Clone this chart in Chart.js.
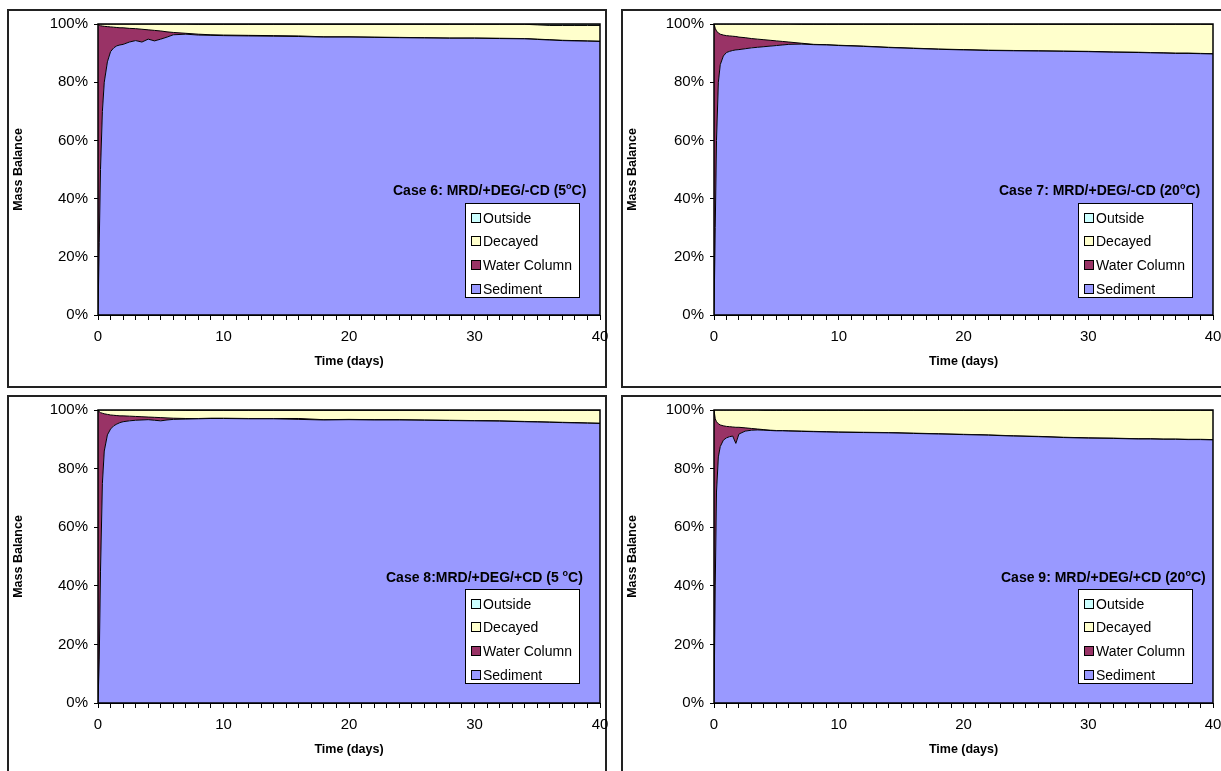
<!DOCTYPE html>
<html>
<head>
<meta charset="utf-8">
<script src="https://cdn.jsdelivr.net/npm/chart.js@4.4.0/dist/chart.umd.min.js"></script>
<style>
  body { margin: 0; background: #fff; width: 1221px; height: 771px; overflow: hidden; position: relative; font-family: "Liberation Sans", Arial, sans-serif; }
  .panel { position: absolute; box-sizing: border-box; border: 2px solid #222; width: 600px; height: 379px; }
  canvas { position: absolute; }
  .case-title { position: absolute; font-weight: bold; font-size: 14px; line-height: 18px; white-space: nowrap; color: #000; }
  .case-title sup { font-size: 9px; vertical-align: 6px; line-height: 0; }
  .legend { position: absolute; box-sizing: border-box; border: 1px solid #000; background: #fff; width: 115px; height: 95px; font-size: 14px; }
  .legend .item { position: absolute; left: 0; height: 18px; line-height: 18px; white-space: nowrap; }
  .legend .sw { position: absolute; left: 5px; top: 4px; width: 8px; height: 8px; border: 1px solid #000; }
  .legend .lab { position: absolute; left: 17px; top: 0; }
</style>
</head>
<body>
<script>
// time axis (days) shared by every case
const days = [0, 0.1, 0.2, 0.35, 0.5, 0.75, 1, 1.25, 1.5, 1.75, 2, 2.5, 3, 3.5, 4, 4.5, 5, 5.5, 6, 7, 8, 9, 10, 12, 14, 16, 18, 20, 22, 24, 26, 28, 30, 32, 34, 35, 36, 37, 38, 39, 40];

const seriesNames = ['Sediment', 'Water Column', 'Decayed', 'Outside'];
const seriesColors = ['#9999FF', '#993366', '#FFFFCC', '#CCFFFF'];
const yTicks = [0, 20, 40, 60, 80, 100];
const xLabels = [0, 10, 20, 30, 40];

// Case 6 (%)
const case6Sediment = [0, 25, 50, 70, 80, 87, 90.5, 91.8, 92.5, 92.8, 93, 93.8, 94.3, 93.8, 94.8, 94.2, 94.8, 95.5, 96.3, 96.5, 96.2, 96.1, 96, 95.9, 95.8, 95.7, 95.5, 95.5, 95.4, 95.3, 95.2, 95.1, 95.1, 95, 94.9, 94.7, 94.5, 94.3, 94.2, 94.1, 94];
const case6Water = [100, 74.6, 49.4, 29.3, 19.2, 12.1, 8.5, 7.1, 6.3, 5.9, 5.7, 4.7, 4.1, 4.4, 3.2, 3.6, 2.8, 1.8, 0.8, 0.3, 0.3, 0.2, 0.2, 0.2, 0.2, 0.2, 0.1, 0.1, 0.1, 0.1, 0.1, 0.1, 0.1, 0.1, 0.1, 0.1, 0.1, 0.1, 0.1, 0.1, 0.1];
const case6Decayed = [0, 0.4, 0.6, 0.7, 0.8, 0.9, 1.0, 1.1, 1.2, 1.3, 1.3, 1.5, 1.6, 1.8, 2.0, 2.2, 2.4, 2.7, 2.9, 3.2, 3.4, 3.6, 3.7, 3.8, 3.9, 4.0, 4.3, 4.3, 4.4, 4.5, 4.6, 4.7, 4.7, 4.8, 4.9, 4.9, 4.9, 5.1, 5.2, 5.3, 5.4];
const case6Outside = [0, 0, 0, 0, 0, 0, 0, 0, 0, 0, 0, 0, 0, 0, 0, 0, 0, 0, 0, 0, 0.1, 0.1, 0.1, 0.1, 0.1, 0.1, 0.1, 0.1, 0.1, 0.1, 0.1, 0.1, 0.1, 0.1, 0.1, 0.3, 0.5, 0.5, 0.5, 0.5, 0.5];

// Case 7
const case7Sediment = [0, 30, 60, 80, 86, 89, 90.2, 90.6, 90.9, 91.1, 91.2, 91.5, 91.8, 92, 92.2, 92.4, 92.6, 92.8, 93, 93.1, 92.9, 92.8, 92.6, 92.3, 91.9, 91.6, 91.3, 91.1, 90.9, 90.8, 90.7, 90.6, 90.5, 90.3, 90.2, 90.1, 90.0, 89.9, 89.9, 89.8, 89.7];
const case7Water = [100, 68.5, 37.6, 16.9, 10.5, 7.2, 5.8, 5.3, 4.9, 4.6, 4.3, 3.8, 3.2, 2.8, 2.4, 2.0, 1.6, 1.2, 0.8, 0.3, 0.1, 0.1, 0.1, 0.1, 0.1, 0.1, 0.1, 0.1, 0.1, 0.1, 0.1, 0.1, 0.1, 0.1, 0.1, 0.1, 0.1, 0.1, 0.1, 0.1, 0.1];
const case7Decayed = [0, 1.5, 2.4, 3.1, 3.5, 3.8, 4.0, 4.1, 4.2, 4.3, 4.5, 4.7, 5.0, 5.2, 5.4, 5.6, 5.8, 6.0, 6.2, 6.5, 6.9, 7.0, 7.2, 7.5, 7.9, 8.2, 8.5, 8.7, 8.9, 9.0, 9.1, 9.2, 9.3, 9.5, 9.6, 9.7, 9.8, 9.9, 9.9, 10.0, 10.1];
const case7Outside = [0, 0, 0, 0, 0, 0, 0, 0, 0, 0, 0, 0, 0, 0, 0, 0, 0, 0, 0, 0.1, 0.1, 0.1, 0.1, 0.1, 0.1, 0.1, 0.1, 0.1, 0.1, 0.1, 0.1, 0.1, 0.1, 0.1, 0.1, 0.1, 0.1, 0.1, 0.1, 0.1, 0.1];

// Case 8
const case8Sediment = [0, 15, 45, 75, 86, 91.5, 93.5, 94.6, 95.2, 95.7, 96, 96.3, 96.5, 96.6, 96.7, 96.5, 96.3, 96.6, 96.8, 96.9, 97, 97.1, 97.1, 97, 97, 96.8, 96.6, 96.7, 96.6, 96.6, 96.5, 96.4, 96.3, 96.2, 96.0, 95.9, 95.8, 95.7, 95.6, 95.5, 95.4];
const case8Water = [100, 84.4, 54.1, 23.9, 12.7, 7.0, 4.8, 3.6, 2.9, 2.3, 2.0, 1.6, 1.3, 1.1, 0.9, 1.0, 1.1, 0.7, 0.4, 0.2, 0.1, 0.1, 0.1, 0.1, 0.1, 0.3, 0.1, 0.1, 0.1, 0.1, 0.1, 0.1, 0.1, 0.1, 0.1, 0.1, 0.1, 0.1, 0.1, 0.1, 0.1];
const case8Decayed = [0, 0.6, 0.9, 1.1, 1.3, 1.5, 1.7, 1.8, 1.9, 2.0, 2.0, 2.1, 2.2, 2.3, 2.4, 2.5, 2.6, 2.7, 2.8, 2.8, 2.8, 2.7, 2.7, 2.8, 2.8, 2.8, 3.2, 3.1, 3.2, 3.2, 3.3, 3.4, 3.5, 3.6, 3.8, 3.9, 4.0, 4.1, 4.2, 4.3, 4.4];
const case8Outside = [0, 0, 0, 0, 0, 0, 0, 0, 0, 0, 0, 0, 0, 0, 0, 0, 0, 0, 0, 0.1, 0.1, 0.1, 0.1, 0.1, 0.1, 0.1, 0.1, 0.1, 0.1, 0.1, 0.1, 0.1, 0.1, 0.1, 0.1, 0.1, 0.1, 0.1, 0.1, 0.1, 0.1];

// Case 9
const case9Sediment = [0, 40, 72, 84, 87.5, 89.7, 90.5, 90.9, 91.1, 88.6, 91.8, 92.8, 93.1, 93.2, 93.1, 93.0, 92.9, 92.9, 92.8, 92.7, 92.6, 92.5, 92.4, 92.3, 92.2, 92.0, 91.8, 91.6, 91.4, 91.1, 90.9, 90.6, 90.4, 90.3, 90.1, 90.1, 90.0, 90.0, 89.9, 89.9, 89.8];
const case9Water = [100, 57, 24, 11.3, 7.4, 4.9, 3.9, 3.4, 3.1, 5.5, 2.3, 1.1, 0.6, 0.3, 0.2, 0.1, 0.1, 0.1, 0.1, 0.1, 0.1, 0.1, 0.1, 0.1, 0.1, 0.1, 0.1, 0.1, 0.1, 0.1, 0.1, 0.1, 0.1, 0.1, 0.1, 0.1, 0.1, 0.1, 0.1, 0.1, 0.1];
const case9Decayed = [0, 3.0, 4.0, 4.7, 5.1, 5.4, 5.6, 5.7, 5.8, 5.9, 5.9, 6.1, 6.3, 6.5, 6.6, 6.8, 6.9, 6.9, 7.0, 7.1, 7.2, 7.3, 7.4, 7.5, 7.6, 7.8, 8.0, 8.2, 8.4, 8.7, 8.9, 9.2, 9.4, 9.5, 9.7, 9.7, 9.8, 9.8, 9.9, 9.9, 10.0];
const case9Outside = [0, 0, 0, 0, 0, 0, 0, 0, 0, 0, 0, 0, 0, 0, 0.1, 0.1, 0.1, 0.1, 0.1, 0.1, 0.1, 0.1, 0.1, 0.1, 0.1, 0.1, 0.1, 0.1, 0.1, 0.1, 0.1, 0.1, 0.1, 0.1, 0.1, 0.1, 0.1, 0.1, 0.1, 0.1, 0.1];

// page layout of the four panels
const panels = [
    { title: 'Case 6: MRD/+DEG/-CD (5<sup>o</sup>C)', left: 7, top: 9, width: 600, plot: { l: 98, t: 24, r: 600, b: 315 }, titleX: 393, titleY: 190,
      series: [case6Sediment, case6Water, case6Decayed, case6Outside] },
    { title: 'Case 7: MRD/+DEG/-CD (20<sup>o</sup>C)', left: 621, top: 9, width: 610, plot: { l: 714, t: 24, r: 1213, b: 315 }, titleX: 999, titleY: 190,
      series: [case7Sediment, case7Water, case7Decayed, case7Outside] },
    { title: 'Case 8:MRD/+DEG/+CD (5 <sup>o</sup>C)', left: 7, top: 395, width: 600, plot: { l: 98, t: 410, r: 600, b: 703 }, titleX: 386, titleY: 577,
      series: [case8Sediment, case8Water, case8Decayed, case8Outside] },
    { title: 'Case 9: MRD/+DEG/+CD (20<sup>o</sup>C)', left: 621, top: 395, width: 610, plot: { l: 714, t: 410, r: 1213, b: 703 }, titleX: 1001, titleY: 577,
      series: [case9Sediment, case9Water, case9Decayed, case9Outside] }
];

Chart.defaults.font.family = '"Liberation Sans", Arial, sans-serif';
Chart.defaults.color = '#000';

const frame = {
    id: 'frame',
    afterDatasetsDraw(chart) {
        const { ctx, chartArea: a } = chart;
        ctx.save();
        ctx.strokeStyle = '#000';
        ctx.lineWidth = 1.5;
        ctx.strokeRect(a.left, a.top, a.right - a.left, a.bottom - a.top);
        ctx.restore();
    }
};

const CW = 620, CH = 379, XAXIS_H = 56;

panels.forEach(function (p) {
    var box = document.createElement('div');
    box.className = 'panel';
    box.style.left = p.left + 'px';
    box.style.top = p.top + 'px';
    box.style.width = p.width + 'px';
    document.body.appendChild(box);
});

panels.forEach(function (p) {
    var cv = document.createElement('canvas');
    cv.width = CW; cv.height = CH;
    cv.style.left = p.left + 'px';
    cv.style.top = p.top + 'px';
    cv.style.width = CW + 'px'; cv.style.height = CH + 'px';
    document.body.appendChild(cv);

    var datasets = p.series.map(function (vals, i) {
        return {
            label: seriesNames[i],
            data: vals.map(function (v, k) { return { x: days[k], y: v }; }),
            backgroundColor: seriesColors[i],
            borderColor: '#000',
            borderWidth: 1,
            pointRadius: 0,
            tension: 0,
            fill: i === 0 ? 'origin' : '-1'
        };
    });

    new Chart(cv, {
        type: 'line',
        data: { datasets: datasets },
        plugins: [frame],
        options: {
            responsive: false,
            animation: false,
            devicePixelRatio: 1,
            layout: {
                padding: {
                    left: 0,
                    top: p.plot.t - p.top,
                    right: CW - (p.plot.r - p.left),
                    bottom: CH - (p.plot.b - p.top) - XAXIS_H
                }
            },
            plugins: { legend: { display: false }, tooltip: { enabled: false } },
            scales: {
                x: {
                    type: 'linear', min: 0, max: 40,
                    afterFit: function (s) { s.height = XAXIS_H; },
                    ticks: {
                        stepSize: 1, autoSkip: false, maxRotation: 0, padding: 8,
                        font: { size: 15 },
                        callback: function (v) { return xLabels.indexOf(v) >= 0 ? String(v) : ''; }
                    },
                    grid: { drawOnChartArea: false, drawTicks: true, tickLength: 5, color: '#000' },
                    border: { color: '#000', width: 1 },
                    title: { display: true, text: 'Time (days)', font: { size: 12.5, weight: 'bold' }, padding: { top: 0, bottom: 1.5 } }
                },
                y: {
                    stacked: true, min: 0, max: 100,
                    afterFit: function (s) { s.width = p.plot.l - p.left; },
                    afterBuildTicks: function (s) { s.ticks = yTicks.map(function (v) { return { value: v }; }); },
                    ticks: { padding: 6, font: { size: 15 }, callback: function (v) { return v + '%'; } },
                    grid: { drawOnChartArea: false, drawTicks: true, tickLength: 4, color: '#000' },
                    border: { color: '#000', width: 1 },
                    title: { display: true, text: 'Mass Balance', font: { size: 12.5, weight: 'bold' }, padding: { top: 4, bottom: 0 } }
                }
            }
        }
    });
});

// titles and legends on top of the plots
panels.forEach(function (p) {
    var t = document.createElement('div');
    t.className = 'case-title';
    t.innerHTML = p.title;
    t.style.left = p.titleX + 'px';
    t.style.top = (p.titleY - 9) + 'px';
    document.body.appendChild(t);

    var lg = document.createElement('div');
    lg.className = 'legend';
    lg.style.left = (p.plot.r - 135) + 'px';
    lg.style.top = (p.plot.t + 179) + 'px';
    // legend lists the stack top-down
    for (var i = seriesNames.length - 1, row = 0; i >= 0; i--, row++) {
        var it = document.createElement('div');
        it.className = 'item';
        it.style.top = (4.7 + row * 23.7) + 'px';
        it.innerHTML = '<span class="sw" style="background:' + seriesColors[i] + '"></span><span class="lab">' + seriesNames[i] + '</span>';
        lg.appendChild(it);
    }
    document.body.appendChild(lg);
});
</script>
</body>
</html>
